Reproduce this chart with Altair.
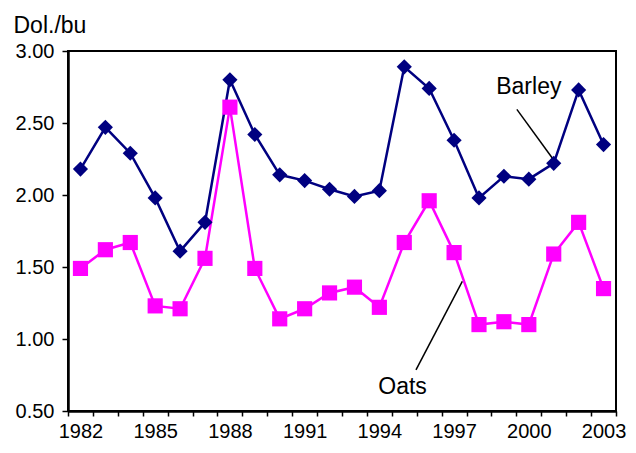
import altair as alt
import pandas as pd

years = list(range(1982, 2004))
barley = [2.18, 2.47, 2.29, 1.98, 1.61, 1.81, 2.80, 2.42, 2.14, 2.10, 2.04,
          1.99, 2.03, 2.89, 2.74, 2.38, 1.98, 2.13, 2.11, 2.22, 2.73, 2.35]
oats = [1.49, 1.62, 1.67, 1.23, 1.21, 1.56, 2.61, 1.49, 1.14, 1.21, 1.32,
        1.36, 1.22, 1.67, 1.96, 1.60, 1.10, 1.12, 1.10, 1.59, 1.81, 1.35]

series = ["Barley", "Oats"]
colors = ["#000080", "#FF00FF"]
shapes = ["diamond", "square"]

# annotation labels (data coordinates)
ann_text = ["Barley", "Oats"]
ann_x = [2000.0, 1994.93]
ann_y = [2.70, 0.62]
# leader lines
lead_x = [1999.52, 1995.47]
lead_y = [2.595, 0.785]
lead_x2 = [2000.97, 1997.33]
lead_y2 = [2.25, 1.40]

FONT = "Liberation Sans"
W, H = 548, 360

df = pd.DataFrame({
    "year": years * 2,
    "value": barley + oats,
    "crop": ["Barley"] * len(years) + ["Oats"] * len(years),
})
ann = pd.DataFrame({"text": ann_text, "x": ann_x, "y": ann_y})
lead = pd.DataFrame({"x": lead_x, "y": lead_y, "x2": lead_x2, "y2": lead_y2})

tick_vals = [y - 0.5 for y in years] + [years[-1] + 0.5]

x_enc = alt.X(
    "year:Q",
    scale=alt.Scale(domain=[1981.5, 2003.5], nice=False, zero=False),
    axis=alt.Axis(
        values=tick_vals,
        tickCount=50,
        labelExpr="(datum.value + 0.5) % 3 == 2 ? format(datum.value + 0.5, 'd') : ''",
        labelOffset=W / 22 / 2,
        labelOverlap=False,
        labelBound=False,
        labelFlush=False,
        labelPadding=5,
        tickSize=5,
        grid=False,
        title=None,
    ),
)
y_enc = alt.Y(
    "value:Q",
    scale=alt.Scale(domain=[0.5, 3.0], nice=False, zero=False),
    axis=alt.Axis(
        values=[0.5, 1.0, 1.5, 2.0, 2.5, 3.0],
        format=".2f",
        tickSize=6,
        labelPadding=8,
        grid=False,
        title="Dol./bu",
        titleAngle=0,
        titleAlign="left",
        titleBaseline="alphabetic",
        titleX=-55,
        titleY=-19,
        titleFontSize=23,
        titleFontWeight="normal",
        titleFont=FONT,
    ),
)
color_enc = alt.Color("crop:N", scale=alt.Scale(domain=series, range=colors), legend=None)

lines = alt.Chart(df).mark_line(strokeWidth=2.5).encode(x=x_enc, y=y_enc, color=color_enc)
points = alt.Chart(df).mark_point(filled=True, opacity=1, size=230).encode(
    x=x_enc, y=y_enc, color=color_enc,
    shape=alt.Shape("crop:N", scale=alt.Scale(domain=series, range=shapes), legend=None),
)
leaders = alt.Chart(lead).mark_rule(color="black", strokeWidth=1.5).encode(
    x="x:Q", y="y:Q", x2="x2:Q", y2="y2:Q"
)
labels = alt.Chart(ann).mark_text(
    font=FONT, fontSize=23, color="black", align="center", baseline="alphabetic"
).encode(x="x:Q", y="y:Q", text="text:N")

chart = alt.layer(lines, leaders, points, labels).properties(
    width=W,
    height=H,
    autosize=alt.AutoSizeParams(type="none"),
    padding={"left": 60, "top": 43, "right": 12, "bottom": 34},
    background="white",
).configure_view(
    stroke="black", strokeWidth=2
).configure_axis(
    domainColor="black", domainWidth=2.5, tickColor="black", tickWidth=1.5,
    labelFont=FONT, labelFontSize=20, labelColor="black",
)

chart.save("out.html", embed_options={"renderer": "svg", "actions": False})
